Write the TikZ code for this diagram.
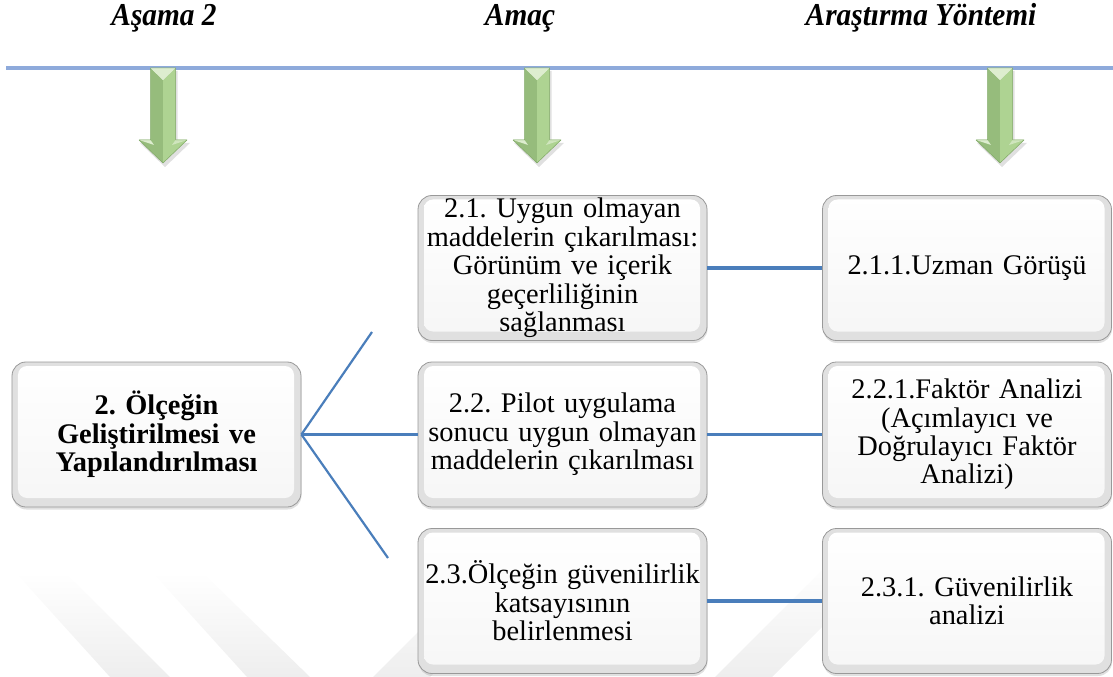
\documentclass[tikz,border=0pt]{standalone}
\usepackage{fontspec}
\setmainfont{Liberation Serif}
\newfontfamily\headfont[FakeStretch=0.92]{Liberation Serif}
\usetikzlibrary{shadows}
\frenchspacing

\definecolor{rule}{HTML}{8EAADB}
\definecolor{link}{HTML}{4A7EBB}
\definecolor{arrowdark}{HTML}{96BC7C}
\definecolor{arrowlight}{HTML}{AED392}
\definecolor{arrowpale}{HTML}{DDEDCF}
\definecolor{arrowedge}{HTML}{7FA865}
\definecolor{bevel}{HTML}{E0E0E0}
\definecolor{rim}{HTML}{999999}
\definecolor{stripe}{HTML}{EEEEEE}

\tikzset{
  card/.style={rectangle, rounded corners=14bp,
    minimum width=289bp, minimum height=145bp, inner sep=0pt,
    text width=286bp, align=center,
    draw=rim, line width=0.8bp, fill=bevel,
    drop shadow={shadow xshift=0.5bp, shadow yshift=-2.5bp, opacity=0.35, fill=gray!70},
    font=\fontsize{28.5}{28.5}\selectfont,
    path picture={
      \shade[top color=white, bottom color=gray!7, rounded corners=9bp]
        ([shift={(6bp,-4bp)}]path picture bounding box.north west) rectangle
        ([shift={(-7bp,9bp)}]path picture bounding box.south east);}},
  heading/.style={anchor=base, font=\headfont\bfseries\itshape\fontsize{32}{34}\selectfont},
  link/.style={draw=link, line width=3.5bp},
  fan/.style={draw=link, line width=2.2bp},
  wmark/.style={top color=white, bottom color=stripe, draw=none},
  greenarrow/.pic={
    % soft shadow
    \fill[black, opacity=0.12]
      (-10.5,3) -- (14.5,3) -- (14.5,75) -- (27,75) -- (2,99) -- (-23,75) -- (-10.5,75) -- cycle;
    % left and right halves
    \fill[arrowdark] (-12.5,0) -- (0,12) -- (0,95) -- (-24,72) -- (-12.5,72) -- cycle;
    \fill[arrowlight] (0,12) -- (12.5,0) -- (12.5,72) -- (24,72) -- (0,95) -- cycle;
    % bevel facets
    \fill[arrowpale] (-12.5,0) -- (12.5,0) -- (0,12) -- cycle;
    \fill[arrowpale] (-24,72) -- (-12.5,72) -- (-9,77) -- cycle;
    \fill[arrowpale!70!arrowlight] (12.5,72) -- (24,72) -- (9,77) -- cycle;
    \draw[arrowedge, line width=0.5bp, line join=round]
      (-12.5,0) -- (12.5,0) -- (12.5,72) -- (24,72) -- (0,95) -- (-24,72) -- (-12.5,72) -- cycle;
  }
}

\begin{document}
\begin{tikzpicture}[x=1bp, y=-1bp]
\useasboundingbox (0,0) rectangle (1113,677);

% faint background stripes
\shade[wmark] (15,572) -- (65,572) -- (170,677) -- (110,677) -- cycle;
\shade[wmark] (152,572) -- (202,572) -- (310,677) -- (247,677) -- cycle;
\shade[wmark] (490,560) -- (547,560) -- (430,677) -- (373,677) -- cycle;
\shade[wmark] (832,560) -- (889,560) -- (772,677) -- (715,677) -- cycle;

% column headings
\node[heading] (h1) at (164,26) {Aşama 2};
\node[heading] (h2) at (520,26) {Amaç};
\node[heading] (h3) at (921,26) {Araştırma Yöntemi};

% rule with arrows
\draw[rule, line width=4bp] (6,68) -- (1113,68);
\pic at (163,68) {greenarrow};
\pic at (537,68) {greenarrow};
\pic at (1000,68) {greenarrow};

% boxes
\node[card, font=\bfseries\fontsize{28.5}{28.5}\selectfont] (L) at (156.5,434.5)
  {2. Ölçeğin\\ Geliştirilmesi ve\\ Yapılandırılması};
\node[card] (M1) at (562.5,268)
  {2.1. Uygun olmayan\\ maddelerin çıkarılması:\\ Görünüm ve içerik\\ geçerliliğinin\\ sağlanması};
\node[card] (M2) at (562.5,434.5)
  {2.2. Pilot uygulama\\ sonucu uygun olmayan\\ maddelerin çıkarılması};
\node[card] (M3) at (562.5,601)
  {2.3.Ölçeğin güvenilirlik\\ katsayısının\\ belirlenmesi};
\node[card] (R1) at (967,268) {2.1.1.Uzman Görüşü};
\node[card] (R2) at (967,434.5)
  {2.2.1.Faktör Analizi\\ (Açımlayıcı ve\\ Doğrulayıcı Faktör\\ Analizi)};
\node[card] (R3) at (967,601) {2.3.1. Güvenilirlik\\ analizi};

% connectors
\coordinate (fanUp) at (372,332);
\coordinate (fanDown) at (388,558);
\draw[fan] (L.east) -- (fanUp);
\draw[fan] (L.east) -- (fanDown);
\draw[link] (L.east) -- (M2.west);
\draw[link] (M1.east) -- (R1.west);
\draw[link] (M2.east) -- (R2.west);
\draw[link] (M3.east) -- (R3.west);
\end{tikzpicture}
\end{document}
